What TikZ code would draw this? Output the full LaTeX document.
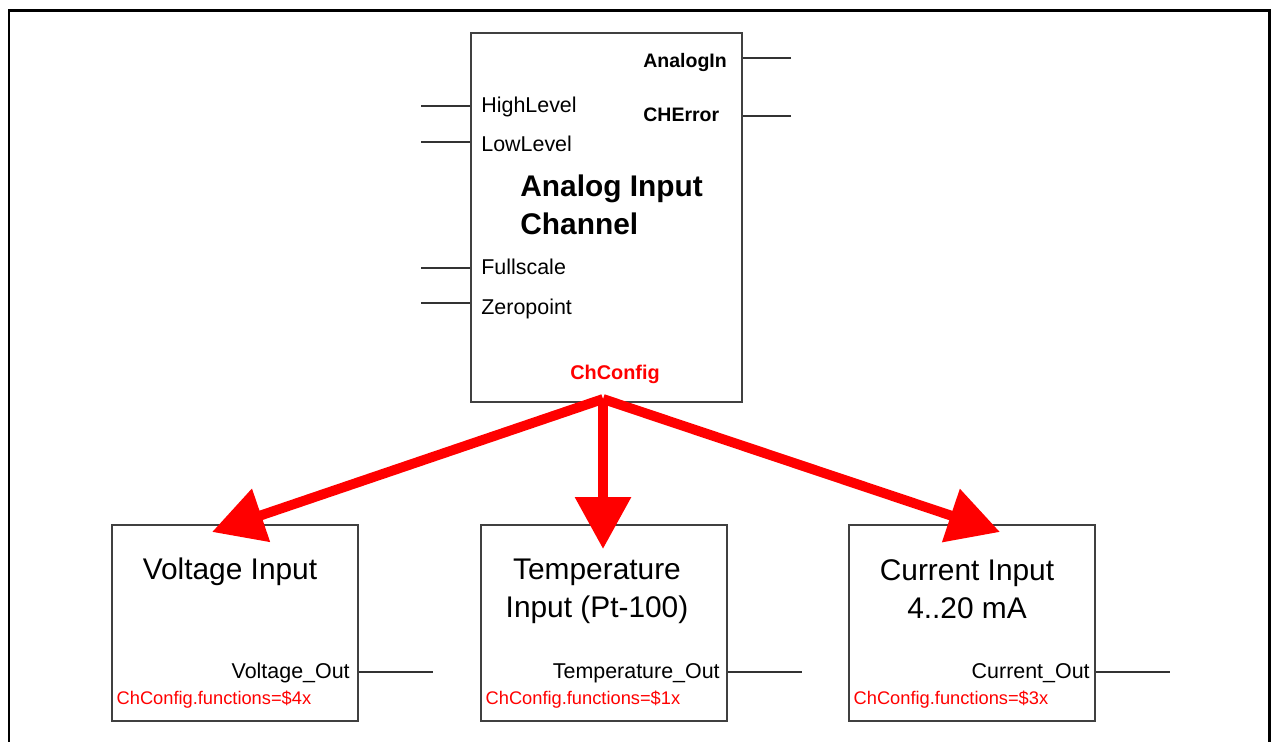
\documentclass[tikz,border=0pt]{standalone}
\usepackage{fontspec}
\setmainfont{Liberation Sans}
\usetikzlibrary{arrows.meta, positioning, calc}

\begin{document}
\begin{tikzpicture}[x=0.02cm, y=-0.02cm,
    blk/.style={draw=black!75, line width=0.8pt, inner sep=0pt},
    pinline/.style={draw=black!80, line width=0.6pt},
    pinlbl/.style={inner sep=0pt, font=\fontsize{12.2}{14}\selectfont},
    outlbl/.style={pinlbl, font=\fontsize{11.1}{13}\selectfont\bfseries},
    bigtitle/.style={inner sep=0pt, align=left, font=\fontsize{17}{21.8}\selectfont\bfseries},
    subtitle/.style={inner sep=0pt, align=center, font=\fontsize{17}{21.5}\selectfont},
    cfglbl/.style={inner sep=0pt, text=red, font=\fontsize{10.4}{12}\selectfont},
    bigarrow/.style={draw=red, line width=5.6pt, -{Triangle[length=29.5pt, width=30.6pt]}}]
    \useasboundingbox (0,0) rectangle (1273,742);
    \draw[line width=1.7pt] (9,742) -- (9,11) -- (1269,11) -- (1269,742);

    % channel block
    \node[blk, minimum width=5.42cm, minimum height=7.38cm] (chan) at (606.5,217.5) {};
    \foreach \y/\b/\name/\txt in {106/113/hl/HighLevel, 142/152/ll/LowLevel, 268/275/fs/Fullscale, 303/315/zp/Zeropoint} {
        \coordinate (\name) at (421,\y);
        \draw[pinline] (\name) -- (\name -| chan.west);
        \node[pinlbl, anchor=base west] (\name lbl) at (481,\b) {\txt};
    }
    \foreach \y/\b/\name/\txt in {58/68/ai/AnalogIn, 116/122/ce/CHError} {
        \coordinate (\name) at (791,\y);
        \draw[pinline] (\name) -- (\name -| chan.east);
        \node[outlbl, anchor=base west] (\name lbl) at (643,\b) {\txt};
    }
    % anchor=base takes the last line of a two-line node
    \node[bigtitle, anchor=base west] (chantitle) at (520,235) {Analog Input\\Channel};
    \node[inner sep=0pt, anchor=base, text=red, font=\fontsize{11.3}{13}\selectfont\bfseries] (cfg) at (615,380) {ChConfig};

    % function blocks
    \node[blk, minimum width=4.92cm, minimum height=3.92cm] (volt) at (235,623) {};
    \node[blk, minimum width=4.92cm, minimum height=3.92cm] (temp) at (604,623) {};
    \node[blk, minimum width=4.92cm, minimum height=3.92cm] (curr) at (972,623) {};

    \node[subtitle, anchor=base] (volttitle) at (230,579) {Voltage Input};
    \node[subtitle, anchor=base] (temptitle) at (597,617) {Temperature\\Input (Pt-100)};
    \node[subtitle, anchor=base] (currtitle) at (967,618) {Current Input\\4..20 mA};

    \foreach \blk/\x/\txt/\n in {volt/350/Voltage\_Out/4, temp/720/Temperature\_Out/1, curr/1090/Current\_Out/3} {
        \node[pinlbl, anchor=base east] (\blk out) at (\x,678) {\txt};
        \coordinate (\blk end) at ($(\blk.east |- 0,672)+(74,0)$);
        \draw[pinline] (\blk end) -- (\blk end -| \blk.east);
        \node[cfglbl, anchor=base west] (\blk cfg) at ($(\blk.west |- 0,704)+(5,0)$) {ChConfig.functions=\$\n x};
    }

    % selection arrows
    \coordinate (apex) at (603,399);
    \coordinate (volttip) at (212,532);
    \coordinate (temptip) at (603,549);
    \coordinate (currtip) at (1000,532);
    \draw[bigarrow] (apex) -- (volttip);
    \draw[bigarrow] (apex) -- (temptip);
    \draw[bigarrow] (apex) -- (currtip);
\end{tikzpicture}
\end{document}
